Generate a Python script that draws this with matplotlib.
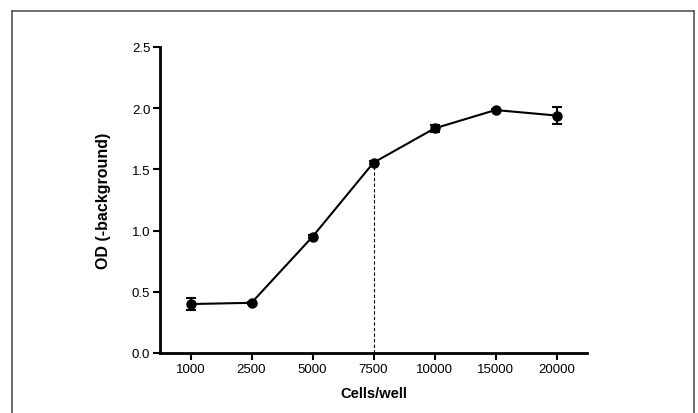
import matplotlib
matplotlib.use("Agg")
import matplotlib.pyplot as plt
from matplotlib.lines import Line2D

plt.rcParams['font.family'] = ['Liberation Sans', 'DejaVu Sans']

categories = ["1000", "2500", "5000", "7500", "10000", "15000", "20000"]
od_values = [0.40, 0.41, 0.95, 1.555, 1.835, 1.985, 1.94]
od_errors = [0.05, 0.01, 0.01, 0.01, 0.03, 0.01, 0.07]
marked_category = "7500"

W, H = 698, 414
fig = plt.figure(figsize=(W / 100, H / 100), dpi=100)
ax = fig.add_axes([160 / W, 1 - 354 / H, (587 - 160) / W, (354 - 48) / H])

x = list(range(len(categories)))
ax.errorbar(x, od_values, yerr=od_errors, fmt='-o', color='black',
            lw=1.5, ms=6.5, capsize=3.5, capthick=1.5, elinewidth=1.5, zorder=3)

mi = categories.index(marked_category)
ax.plot([mi, mi], [0, od_values[mi]], ls=(0, (3, 2)), color='black', lw=0.8, zorder=2)

ax.set_xlim(-0.5, len(categories) - 0.5)
ax.set_ylim(0, 2.5)
ax.set_xticks(x)
ax.set_xticklabels(categories)
ax.set_yticks([0.0, 0.5, 1.0, 1.5, 2.0, 2.5])
ax.set_yticklabels(["0.0", "0.5", "1.0", "1.5", "2.0", "2.5"])

for s in ['top', 'right']:
    ax.spines[s].set_visible(False)
for s in ['left', 'bottom']:
    ax.spines[s].set_linewidth(2)
ax.tick_params(axis='both', direction='out', length=5, width=1.5, labelsize=9.5, pad=2)

ax.set_xlabel("Cells/well", fontsize=10.5, fontweight='bold', labelpad=8)
ax.set_ylabel("OD (-background)", fontsize=11.5, fontweight='bold', labelpad=15)

# outer frame
fx = lambda px: px / W
fy = lambda py: 1 - py / H
for (x0, y0, x1, y1) in [(12, 12, 694, 12), (12, 12, 12, 414), (694, 12, 694, 414)]:
    fig.add_artist(Line2D([fx(x0), fx(x1)], [fy(y0), fy(y1)], color='#555555', lw=1.2,
                          transform=fig.transFigure))

fig.savefig("out.png", dpi=100)
